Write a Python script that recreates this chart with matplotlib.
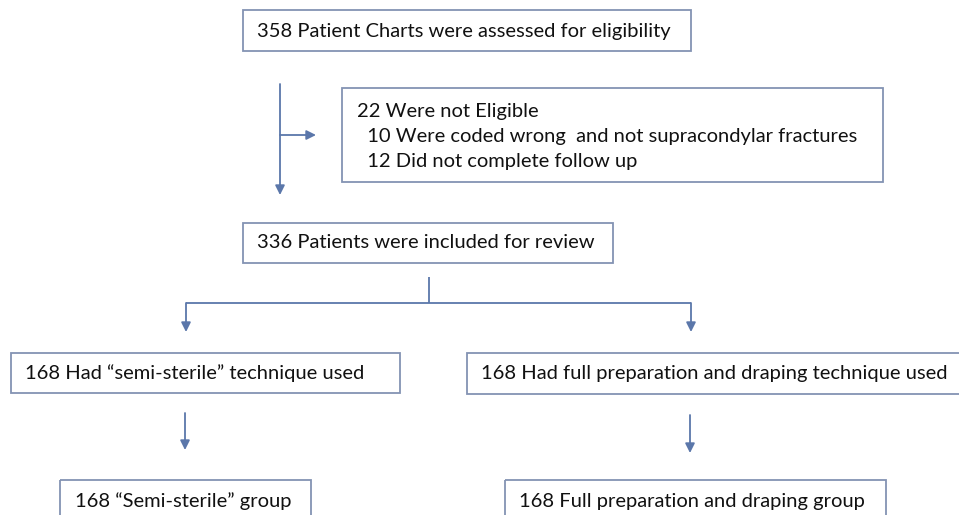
import matplotlib.pyplot as plt
from matplotlib.patches import Rectangle

# box texts
screened = "358 Patient Charts were assessed for eligibility"
excluded = ["22 Were not Eligible",
            "  10 Were coded wrong  and not supracondylar fractures",
            "  12 Did not complete follow up"]
included = "336 Patients were included for review"
arms = ["168 Had \u201csemi-sterile\u201d technique used",
        "168 Had full preparation and draping technique used"]
groups = ["168 \u201cSemi-sterile\u201d group",
          "168 Full preparation and draping group"]

W, H = 959, 515
box_col = '#8393b3'
line_col = '#5b77aa'
fs = 14.5
font = 'Lato'

fig = plt.figure(figsize=(W / 100, H / 100), dpi=100)
ax = fig.add_axes([0, 0, 1, 1])
ax.set_xlim(0, W)
ax.set_ylim(H, 0)
ax.axis('off')


def box(x0, y0, x1, y1):
    ax.add_patch(Rectangle((x0, y0), x1 - x0, y1 - y0, fill=False,
                           edgecolor=box_col, linewidth=1.3, clip_on=True))


def txt(x, y, s):
    ax.text(x, y, s, fontsize=fs, family=font, va='center', ha='left', color='#111111')


def arrow(x0, y0, x1, y1):
    ax.annotate('', xy=(x1, y1), xytext=(x0, y0),
                arrowprops=dict(arrowstyle='-|>', color=line_col, lw=1.3,
                                mutation_scale=14, shrinkA=0, shrinkB=0))


def line(xs, ys):
    ax.plot(xs, ys, color=line_col, lw=1.3, solid_capstyle='butt')


# top box
box(243, 10, 691, 51)
txt(257, 31, screened)

# main down arrow + side branch
arrow(280, 84, 280, 195)
arrow(280, 135, 316, 135)

# exclusion box
box(342, 88, 883, 182)
for i, s in enumerate(excluded):
    txt(357, 111 + i * 25.5, s)

# included box
box(243, 223, 613, 263)
txt(257, 243, included)

# split
line([429, 429], [277, 303])
line([186, 691], [303, 303])
arrow(186, 303, 186, 332)
arrow(691, 303, 691, 332)

# arm boxes
box(11, 353, 400, 393)
txt(25, 373, arms[0])
box(467, 353, 960, 394)
txt(481, 373, arms[1])

arrow(185, 413, 185, 450)
arrow(690, 415, 690, 453)

# group boxes (cut at bottom edge)
box(60, 480, 311, 530)
txt(75, 501, groups[0])
box(505, 480, 886, 530)
txt(519, 501, groups[1])

fig.savefig('out.png', dpi=100)
